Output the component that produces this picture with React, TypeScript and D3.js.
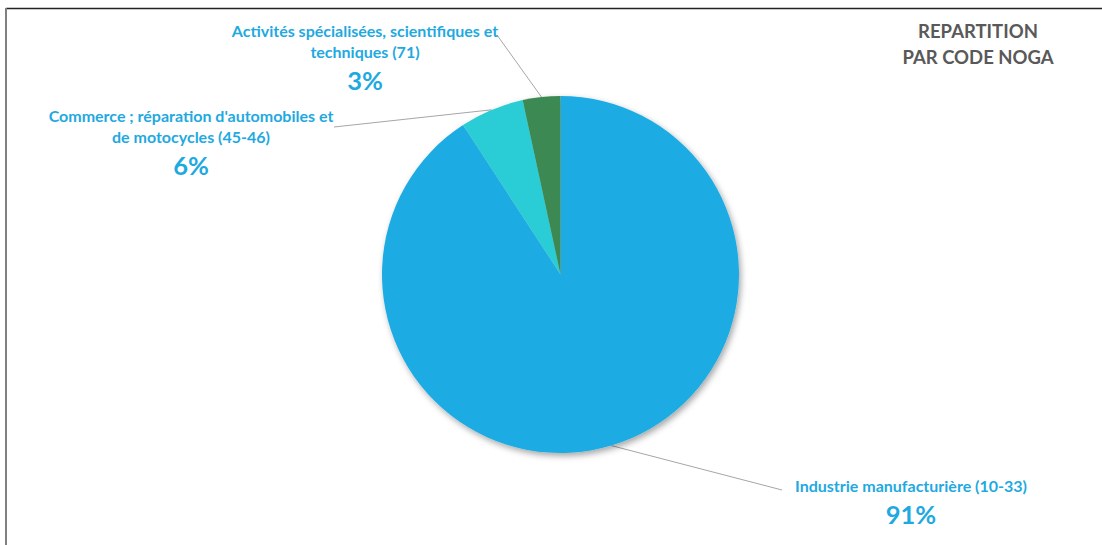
import React from "react";
import * as d3 from "d3";

const categories = [
  "Industrie manufacturière (10-33)",
  "Commerce ; réparation d'automobiles et de motocycles (45-46)",
  "Activités spécialisées, scientifiques et techniques (71)",
];
const values = [90.8, 5.8, 3.4];
const percentLabels = ["91%", "6%", "3%"];
const labelLines = [
  ["Industrie manufacturière (10-33)"],
  ["Commerce ; réparation d'automobiles et", "de motocycles (45-46)"],
  ["Activités spécialisées, scientifiques et", "techniques (71)"],
];
const colors = ["#1FABE3", "#2ACDD6", "#3C8953"];
const titleLines = ["REPARTITION", "PAR CODE NOGA"];

const W = 1102;
const H = 545;
const cx = 560.5;
const cy = 274.5;
const R = 178.5;

// label layout: center x, first baseline y, leader anchor point
const labelLayout = [
  { x: 911, y: 492, pctY: 524, ax: 782, ay: 490 },
  { x: 191, y: 122, pctY: 175, ax: 334, ay: 127 },
  { x: 365, y: 37, pctY: 90, ax: 497, ay: 35 },
];

export default function App() {
  const pie = d3
    .pie<number>()
    .sort(null)
    .value((d) => d)
    .startAngle(0)
    .endAngle(2 * Math.PI);
  const arcs = pie(values);
  const arc = d3.arc<d3.PieArcDatum<number>>().innerRadius(0).outerRadius(R);
  const font = "Lato, 'Open Sans', sans-serif";

  return (
    <svg
      width={W}
      height={H}
      style={{ position: "absolute", left: 0, top: 0, display: "block", background: "#fff" }}
    >
      <defs>
        <filter id="sh" x="-20%" y="-20%" width="140%" height="140%">
          <feDropShadow dx="2" dy="3" stdDeviation="3" floodColor="#000" floodOpacity="0.35" />
        </filter>
      </defs>
      <rect x={0} y={0} width={W} height={H} fill="#fff" />
      <line x1={6} y1={8.5} x2={W} y2={8.5} stroke="#222" strokeWidth={1.5} />
      <line x1={6} y1={8} x2={6} y2={H} stroke="#808080" strokeWidth={2} />

      {arcs.map((a, i) => {
        const mid = (a.startAngle + a.endAngle) / 2;
        const px = cx + R * Math.sin(mid);
        const py = cy - R * Math.cos(mid);
        const L = labelLayout[i];
        return (
          <line
            key={"l" + i}
            x1={px}
            y1={py}
            x2={L.ax}
            y2={L.ay}
            stroke="#a6a6a6"
            strokeWidth={1}
          />
        );
      })}

      <g transform={`translate(${cx},${cy})`} filter="url(#sh)">
        {arcs.map((a, i) => (
          <path key={i} d={arc(a) || ""} fill={colors[i]} />
        ))}
      </g>

      {labelLayout.map((L, i) => (
        <g key={"t" + i} fontFamily={font} fontWeight="bold" fill="#1FA9E1" textAnchor="middle">
          {labelLines[i].map((t, j) => (
            <text key={j} x={L.x} y={L.y + j * 20.5} fontSize={16}>
              {t}
            </text>
          ))}
          <text x={L.x} y={L.pctY} fontSize={25.5}>
            {percentLabels[i]}
          </text>
        </g>
      ))}

      <g fontFamily={font} fontWeight="bold" fill="#595959" textAnchor="middle" fontSize={18.5}>
        {titleLines.map((t, j) => (
          <text key={j} x={978} y={38 + j * 26}>
            {t}
          </text>
        ))}
      </g>
    </svg>
  );
}
